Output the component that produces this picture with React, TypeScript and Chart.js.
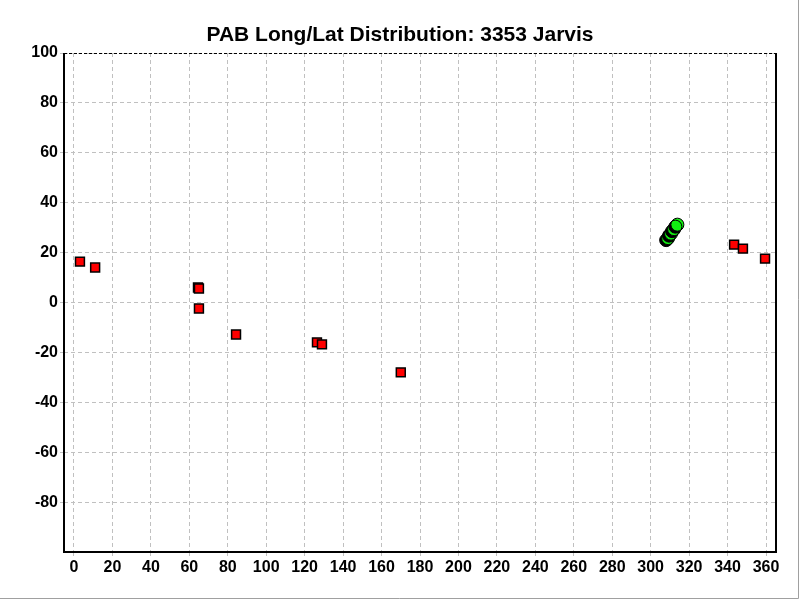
import React, { useEffect, useRef } from "react";
import { Chart, registerables } from "chart.js";

Chart.register(...registerables);

const TITLE = "PAB Long/Lat Distribution: 3353 Jarvis";

const redLong = [3.1, 11, 64.5, 65, 65, 84.3, 126.4, 129, 170, 343.4, 348, 359.5];
const redLat = [16.4, 14, 6, 5.6, -2.4, -12.8, -16, -16.8, -28, 23.2, 21.6, 17.6];

const greenLong = [309.1, 310.6, 312.2, 313.9];
const greenLat = [25.8, 27.6, 29.4, 31.2];

const xTickValues = [0, 20, 40, 60, 80, 100, 120, 140, 160, 180, 200, 220, 240, 260, 280, 300, 320, 340, 360];
const yTickValues = [-80, -60, -40, -20, 0, 20, 40, 60, 80, 100];

const X_MIN = -5.2;
const X_MAX = 365.2;
const Y_MIN = -100;
const Y_MAX = 100;

const FONT = "'Liberation Sans', Arial, sans-serif";

const framePlugin = {
  id: "frame",
  afterDraw(chart: any) {
    const { ctx, chartArea } = chart;
    const { left, right, top, bottom } = chartArea;
    ctx.save();
    ctx.strokeStyle = "#000";
    ctx.lineWidth = 2;
    ctx.setLineDash([]);
    ctx.beginPath();
    ctx.moveTo(left, top);
    ctx.lineTo(left, bottom);
    ctx.lineTo(right, bottom);
    ctx.lineTo(right, top);
    ctx.stroke();
    ctx.lineWidth = 1;
    ctx.setLineDash([3, 2]);
    ctx.beginPath();
    ctx.moveTo(left, top + 0.5);
    ctx.lineTo(right, top + 0.5);
    ctx.stroke();
    ctx.setLineDash([]);
    ctx.strokeStyle = "#a0a0a0";
    ctx.lineWidth = 1;
    ctx.beginPath();
    ctx.moveTo(798.5, 0);
    ctx.lineTo(798.5, 598.5);
    ctx.lineTo(0, 598.5);
    ctx.stroke();
    ctx.restore();
  },
};

const shadowPlugin = {
  id: "greenShadow",
  beforeDatasetDraw(chart: any, args: any) {
    if (args.index === 1) {
      const ctx = chart.ctx;
      ctx.save();
      ctx.shadowColor = "#000";
      ctx.shadowOffsetX = -2;
      ctx.shadowOffsetY = 2;
      ctx.shadowBlur = 0;
    }
  },
  afterDatasetDraw(chart: any, args: any) {
    if (args.index === 1) {
      chart.ctx.restore();
    }
  },
};

export default function App() {
  const ref = useRef<HTMLCanvasElement | null>(null);

  useEffect(() => {
    if (!ref.current) return;
    const chart = new Chart(ref.current, {
      type: "scatter",
      data: {
        datasets: [
          {
            label: "red",
            data: redLong.map((x, i) => ({ x, y: redLat[i] })),
            pointStyle: "rect",
            pointRadius: 6.3,
            backgroundColor: "#ff0000",
            borderColor: "#000000",
            borderWidth: 1.5,
          },
          {
            label: "green",
            data: greenLong.map((x, i) => ({ x, y: greenLat[i] })),
            pointStyle: "circle",
            pointRadius: 6.5,
            backgroundColor: "#11ee11",
            borderColor: "#000000",
            borderWidth: 1,
          },
        ],
      },
      options: {
        animation: false,
        responsive: false,
        devicePixelRatio: 1,
        layout: { padding: 0 },
        plugins: {
          legend: { display: false },
          tooltip: { enabled: false },
          title: {
            display: true,
            text: TITLE,
            color: "#000",
            font: { family: FONT, size: 21, weight: "bold" },
            padding: { top: 23, bottom: 4.8 },
          },
        },
        scales: {
          x: {
            type: "linear",
            min: X_MIN,
            max: X_MAX,
            afterBuildTicks: (s: any) => {
              s.ticks = xTickValues.map((v) => ({ value: v }));
            },
            afterFit: (s: any) => {
              s.height = 48;
            },
            border: { display: false, dash: [4, 3] },
            grid: {
              color: "#c0c0c0",
              tickColor: "#c0c0c0",
              tickLength: 4,
              lineWidth: 1,
            },
            ticks: {
              color: "#000",
              font: { family: FONT, size: 16, weight: "bold" },
              padding: 2,
              maxRotation: 0,
              autoSkip: false,
            },
          },
          y: {
            type: "linear",
            min: Y_MIN,
            max: Y_MAX,
            afterBuildTicks: (s: any) => {
              s.ticks = yTickValues.map((v) => ({ value: v }));
            },
            afterFit: (s: any) => {
              s.width = 64;
            },
            border: { display: false, dash: [4, 3] },
            grid: {
              color: "#c0c0c0",
              tickColor: "#c0c0c0",
              tickLength: 4,
              lineWidth: 1,
            },
            ticks: {
              color: "#000",
              font: { family: FONT, size: 16, weight: "bold" },
              padding: 2,
              autoSkip: false,
            },
          },
          yRightSpacer: {
            type: "linear",
            position: "right",
            display: true,
            afterFit: (s: any) => {
              s.width = 24;
            },
            border: { display: false },
            grid: { display: false, drawTicks: false },
            ticks: { display: false },
          },
        },
      } as any,
      plugins: [framePlugin, shadowPlugin],
    });
    return () => chart.destroy();
  }, []);

  return (
    <div style={{ position: "absolute", left: 0, top: 0, width: 800, height: 600, background: "#fff" }}>
      <canvas ref={ref} width={800} height={600} style={{ width: 800, height: 600 }} />
    </div>
  );
}
